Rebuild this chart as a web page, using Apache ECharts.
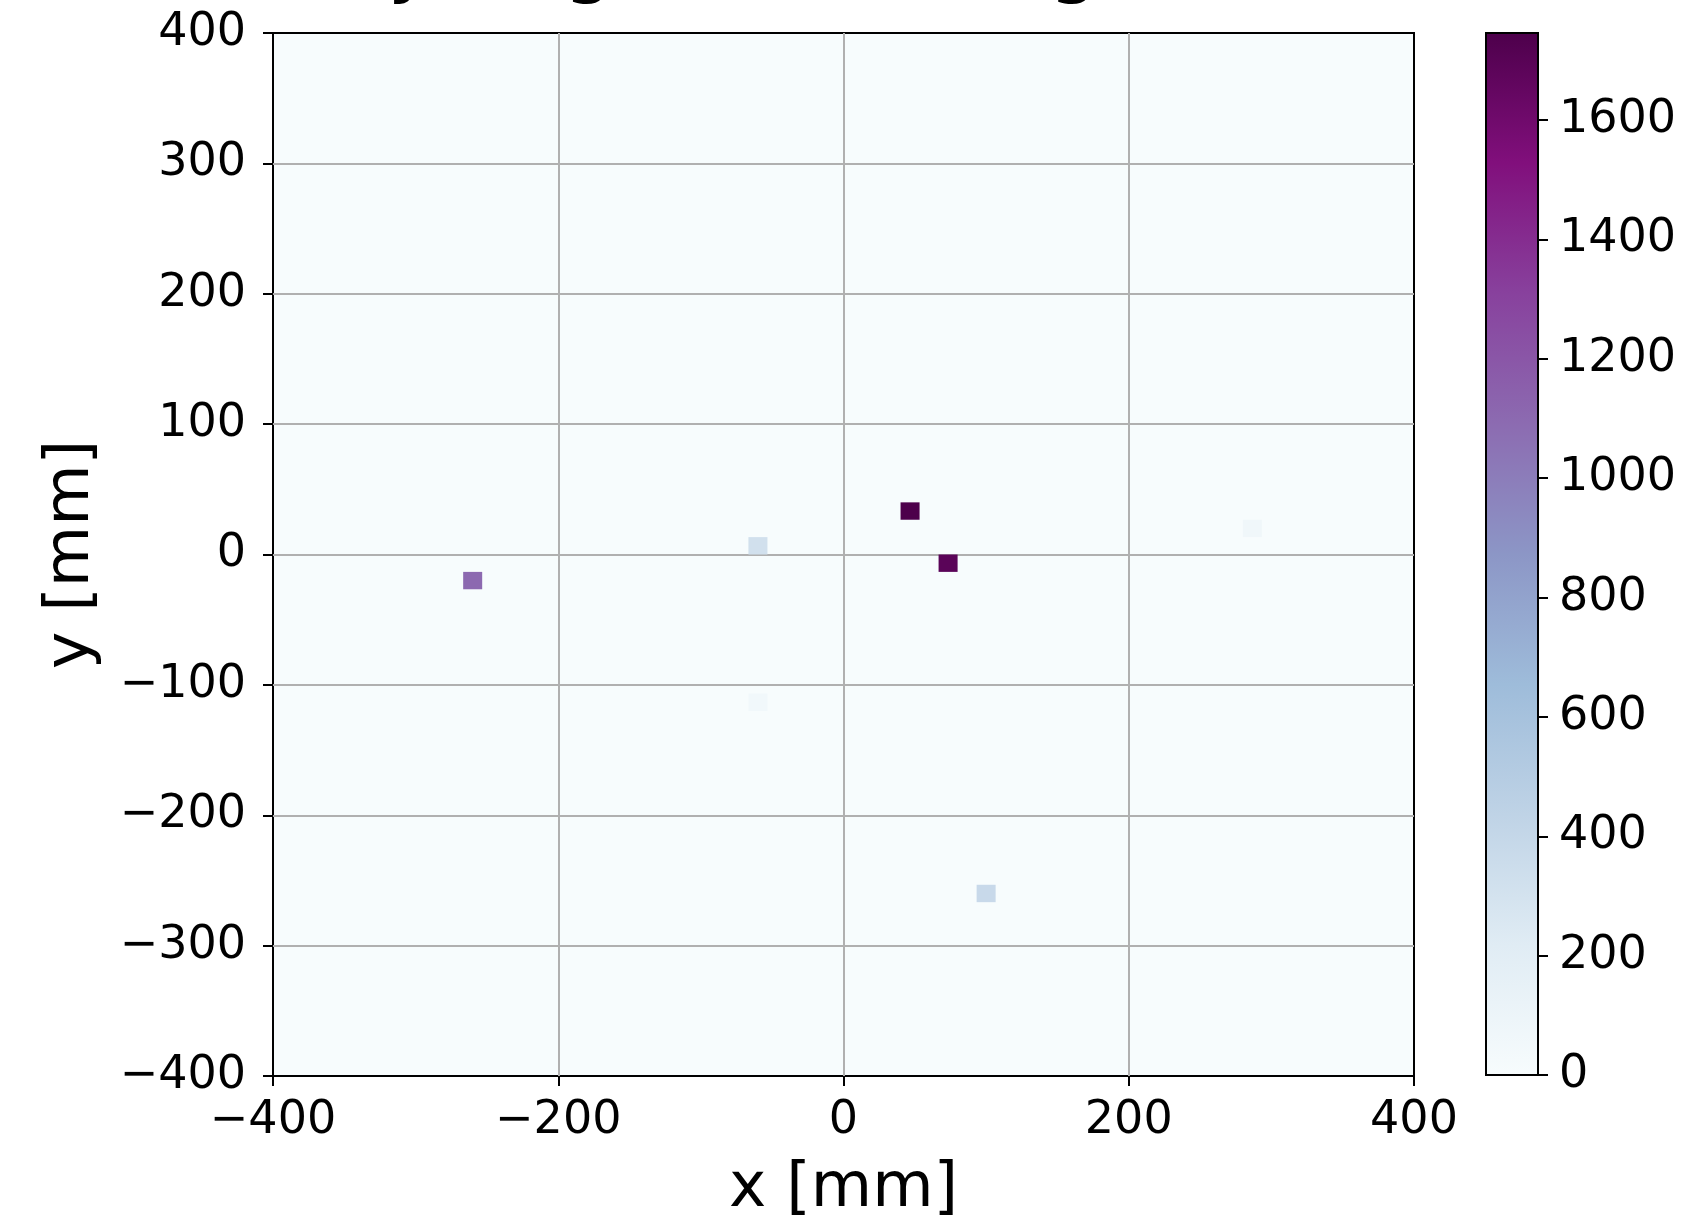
<!DOCTYPE html>
<html>
<head>
<meta charset="utf-8">
<script src="https://cdn.jsdelivr.net/npm/echarts@6/dist/echarts.min.js"></script>
<style>
html,body{margin:0;padding:0;background:#fff;}
#chart{width:1685px;height:1223px;}
</style>
</head>
<body>
<div id="chart"></div>
<script>
// Bin centres (mm) of the non-empty cells of the 2D histogram, and their counts
const xCenters = [-260, -60, 46.67, 73.33, -60, 100, 286.67];
const yCenters = [-20, 6.67, 33.33, -6.67, -113.33, -260, 20];
const counts   = [1100, 320, 1746, 1690, 60, 380, 70];
const binWidth = 800 / 60;
const xTicks = [-400, -200, 0, 200, 400];
const yTicks = [-400, -300, -200, -100, 0, 100, 200, 300, 400];
const cbarTicks = [0, 200, 400, 600, 800, 1000, 1200, 1400, 1600];
const cbarMax = 1746;
const titleText = 'Intensity of grid cells, high hits';

const BuPu = ['#f7fcfd','#e0ecf4','#bfd3e6','#9ebcda','#8c96c6','#8c6bb1','#88419d','#810f7c','#4d004b'];
const cells = xCenters.map((x, i) => [x, yCenters[i], counts[i]]);

const font = 'DejaVu Sans';
const tickFont = 46;
const fmt = v => (v < 0 ? '\u2212' + Math.abs(v) : String(v));

const chart = echarts.init(document.getElementById('chart'), null, {renderer: 'canvas'});
chart.setOption({
  backgroundColor: '#fff',
  animation: false,
  grid: [
    {left: 273, top: 33, width: 1141, height: 1043, show: true, backgroundColor: BuPu[0],
     borderColor: '#000', borderWidth: 2, outerBoundsMode: 'none', containLabel: false},
    {left: 1486, top: 33, width: 52, height: 1042, show: true, borderColor: '#000', borderWidth: 2,
     outerBoundsMode: 'none', containLabel: false,
     backgroundColor: {type: 'linear', x: 0, y: 0, x2: 0, y2: 1,
       colorStops: BuPu.slice().reverse().map((c, i) => ({offset: i / (BuPu.length - 1), color: c}))}}
  ],
  xAxis: [
    {gridIndex: 0, type: 'value', min: -400, max: 400, interval: 200,
     name: 'x [mm]', nameLocation: 'middle', nameGap: 82,
     nameTextStyle: {fontFamily: font, fontSize: 63, color: '#000'},
     axisLine: {show: false, onZero: false},
     axisTick: {show: true, length: 10, lineStyle: {color: '#000', width: 2}, customValues: xTicks},
     axisLabel: {fontFamily: font, fontSize: tickFont, color: '#000', margin: 22, formatter: fmt, customValues: xTicks},
     splitLine: {show: true, showMinLine: false, showMaxLine: false, lineStyle: {color: '#b0b0b0', width: 2}}},
    {gridIndex: 1, type: 'value', min: 0, max: 1, show: false}
  ],
  yAxis: [
    {gridIndex: 0, type: 'value', min: -400, max: 400, interval: 100,
     name: 'y [mm]', nameLocation: 'middle', nameGap: 170, nameRotate: 90,
     nameTextStyle: {fontFamily: font, fontSize: 63, color: '#000'},
     axisLine: {show: false, onZero: false},
     axisTick: {show: true, length: 10, lineStyle: {color: '#000', width: 2}, customValues: yTicks},
     axisLabel: {fontFamily: font, fontSize: tickFont, color: '#000', margin: 27, formatter: fmt, customValues: yTicks},
     splitLine: {show: true, showMinLine: false, showMaxLine: false, lineStyle: {color: '#b0b0b0', width: 2}}},
    {gridIndex: 1, type: 'value', min: 0, max: cbarMax, position: 'right',
     axisLine: {show: false, onZero: false},
     axisTick: {show: true, length: 10, lineStyle: {color: '#000', width: 2}, customValues: cbarTicks},
     axisLabel: {fontFamily: font, fontSize: tickFont, color: '#000', margin: 21, formatter: fmt, customValues: cbarTicks},
     splitLine: {show: false}}
  ],
  visualMap: {
    show: false, type: 'continuous', min: 0, max: cbarMax, dimension: 2, seriesIndex: 0,
    inRange: {color: BuPu}
  },
  graphic: [{
    type: 'text', left: 87, top: -74, silent: true,
    style: {text: titleText, fontFamily: font, fontSize: 80, fill: '#000'}
  }],
  series: [{
    type: 'custom', xAxisIndex: 0, yAxisIndex: 0, data: cells,
    renderItem: function (params, api) {
      const x = api.value(0), y = api.value(1);
      const p1 = api.coord([x - binWidth / 2, y + binWidth / 2]);
      const p2 = api.coord([x + binWidth / 2, y - binWidth / 2]);
      return {type: 'rect', shape: {x: p1[0], y: p1[1], width: p2[0] - p1[0], height: p2[1] - p1[1]},
              style: {fill: api.visual('color')}};
    }
  }]
});
</script>
</body>
</html>
